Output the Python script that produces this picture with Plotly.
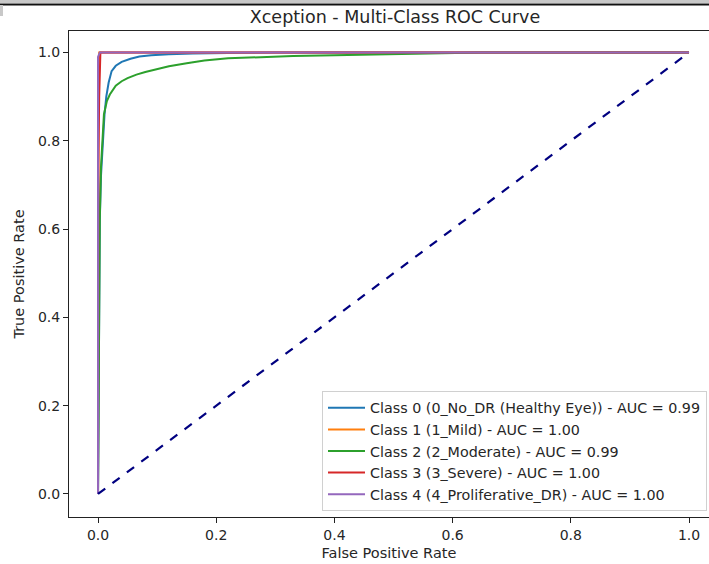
import plotly.graph_objects as go

class_names = [
    "Class 0 (0_No_DR (Healthy Eye)) - AUC = 0.99",
    "Class 1 (1_Mild) - AUC = 1.00",
    "Class 2 (2_Moderate) - AUC = 0.99",
    "Class 3 (3_Severe) - AUC = 1.00",
    "Class 4 (4_Proliferative_DR) - AUC = 1.00",
]
colors = ["#1f77b4", "#ff7f0e", "#2ca02c", "#d62728", "#9467bd"]

fpr0 = [0, 0.001, 0.002, 0.003, 0.005, 0.008, 0.011, 0.014, 0.018, 0.023, 0.03, 0.04, 0.055, 0.07, 0.09, 0.12, 0.16, 0.22, 0.3, 1.0]
tpr0 = [0, 0.3, 0.5, 0.62, 0.72, 0.8, 0.86, 0.9, 0.932, 0.958, 0.97, 0.979, 0.986, 0.991, 0.994, 0.996, 0.998, 0.999, 1.0, 1.0]

fpr1 = [0, 0, 0.001, 0.002, 1.0]
tpr1 = [0, 0.9, 0.98, 1.0, 1.0]

fpr2 = [0, 0.001, 0.003, 0.005, 0.007, 0.01, 0.015, 0.02, 0.03, 0.04, 0.05, 0.065, 0.08, 0.1, 0.12, 0.15, 0.18, 0.22, 0.27, 0.33, 0.4, 0.48, 0.56, 0.65, 1.0]
tpr2 = [0, 0.35, 0.62, 0.74, 0.8, 0.86, 0.89, 0.905, 0.925, 0.935, 0.942, 0.95, 0.956, 0.963, 0.969, 0.976, 0.982, 0.987, 0.99, 0.992, 0.994, 0.996, 0.998, 1.0, 1.0]

fpr3 = [0, 0.0005, 0.002, 0.003, 0.004, 1.0]
tpr3 = [0, 0.75, 0.9, 0.97, 1.0, 1.0]

fpr4 = [0, 0, 0.003, 1.0]
tpr4 = [0, 0.99, 1.0, 1.0]

diag_x = [0, 1]
diag_y = [0, 1]

x_ticks = [0.0, 0.2, 0.4, 0.6, 0.8, 1.0]
y_ticks = [0.0, 0.2, 0.4, 0.6, 0.8, 1.0]

FONT = "DejaVu Sans"
TXT = "#262626"

fig = go.Figure()
series = [(fpr0, tpr0), (fpr1, tpr1), (fpr2, tpr2), (fpr3, tpr3), (fpr4, tpr4)]
for i, ((fx, ty), name, c) in enumerate(zip(series, class_names, colors)):
    fig.add_trace(go.Scatter(x=fx, y=ty, mode="lines", name=name,
                             line=dict(color=c, width=2), legendgroup=f"g{i}"))

fig.add_trace(go.Scatter(x=diag_x, y=diag_y, mode="lines", showlegend=False,
                         line=dict(color="#000080", width=2.2, dash="dash")))

W, H = 709, 564
L, R, T, B = 69, 0, 31, 47
pw, ph = W - L - R, H - T - B

def py(p):
    return (H - B - p) / ph

def px(p):
    return (p - L) / pw

fig.update_layout(
    width=W, height=H,
    margin=dict(l=L, r=R, t=T, b=B, autoexpand=False),
    paper_bgcolor="white", plot_bgcolor="white",
    font=dict(family=FONT, size=14, color=TXT),
    title=dict(text="Xception - Multi-Class ROC Curve", xref="paper", x=px(395), xanchor="center",
               yref="container", y=1 - 17 / H, yanchor="middle", font=dict(size=17.5, color=TXT)),
    xaxis=dict(range=[-0.0491, 1.0338], tickvals=x_ticks, ticktext=[f"{v:.1f}" for v in x_ticks],
               showgrid=False, zeroline=False, showline=True, linecolor="#222", linewidth=1,
               mirror=True, ticks="outside", ticklen=5, tickcolor="#222",
               tickfont=dict(size=14),
               title=dict(text="False Positive Rate", standoff=6, font=dict(size=14.5))),
    yaxis=dict(range=[-0.0522, 1.0488], tickvals=y_ticks, ticktext=[f"{v:.1f}" for v in y_ticks],
               showgrid=False, zeroline=False, showline=True, linecolor="#222", linewidth=1,
               mirror=False, ticks="outside", ticklen=5, tickcolor="#222",
               tickfont=dict(size=14),
               title=dict(text="True Positive Rate", standoff=9, font=dict(size=14.5))),
    legend=dict(x=px(707), xanchor="right", y=py(511), yanchor="bottom",
                bgcolor="rgba(255,255,255,0.85)", bordercolor="#d0d0d0", borderwidth=1,
                font=dict(size=14.3, color=TXT), tracegroupgap=2.5, traceorder="normal",
                itemwidth=37),
    shapes=[
        dict(type="rect", xref="paper", yref="paper", x0=px(0), x1=px(W), y0=py(3), y1=py(0),
             fillcolor="#c8c8c8", line=dict(width=0), layer="above"),
        dict(type="line", xref="paper", yref="paper", x0=px(0), x1=px(W), y0=py(4.5), y1=py(4.5),
             line=dict(color="#111", width=2), layer="above"),
        dict(type="rect", xref="paper", yref="paper", x0=px(0), x1=px(3), y0=py(16), y1=py(5),
             fillcolor="#c8c8c8", line=dict(width=0), layer="above"),
    ],
)

fig.write_html("out.html")
